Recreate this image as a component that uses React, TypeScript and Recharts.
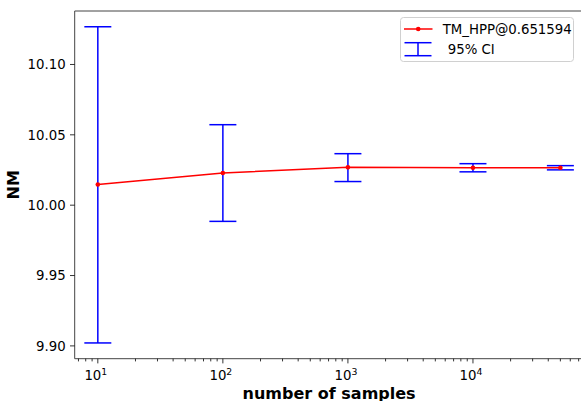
import React from 'react';
import {
  ComposedChart,
  Line,
  XAxis,
  YAxis,
  ErrorBar,
  ReferenceLine,
  Legend,
  Label,
} from 'recharts';

const samples = [10, 100, 1000, 10000, 50000];
const means = [10.0147, 10.0229, 10.0269, 10.0266, 10.0266];
const ciLow = [9.9021, 9.9885, 10.0168, 10.0237, 10.0251];
const ciHigh = [10.1268, 10.0572, 10.0366, 10.0295, 10.0281];

const yTicks = [9.9, 9.95, 10.0, 10.05, 10.1];
const xMajorTicks = [10, 100, 1000, 10000];
const xMinorTicks = [
  7, 8, 9,
  20, 30, 40, 50, 60, 70, 80, 90,
  200, 300, 400, 500, 600, 700, 800, 900,
  2000, 3000, 4000, 5000, 6000, 7000, 8000, 9000,
  20000, 30000, 40000, 50000, 60000, 70000,
];
const xMajorExponents = ['1', '2', '3', '4'];

const seriesName = 'TM_HPP@0.651594';
const ciName = '95% CI';
const xTitle = 'number of samples';
const yTitle = 'NM';

const X_DOMAIN: [number, number] = [6.532, 76550];
const Y_DOMAIN: [number, number] = [9.8909, 10.138];

const data = samples.map((s, i) => ({
  n: s,
  mean: means[i],
  err: [means[i] - ciLow[i], ciHigh[i] - means[i]],
}));

const FONT = 'DejaVu Sans';

const XTick = (props: any) => {
  const { x, y, payload } = props;
  const v = payload.value;
  const idx = xMajorTicks.indexOf(v);
  if (idx < 0) {
    return <line x1={x} x2={x} y1={y} y2={y + 2.7} stroke="#000" strokeWidth={0.8} />;
  }
  return (
    <g>
      <line x1={x} x2={x} y1={y} y2={y + 4.7} stroke="#000" strokeWidth={0.8} />
      <text
        x={x - 2}
        y={y + 21.7}
        textAnchor="middle"
        fontFamily={FONT}
        fontSize={13.3}
        fill="#000"
      >
        <tspan>10</tspan>
        <tspan dy={-5.5} fontSize={9.3}>
          {xMajorExponents[idx]}
        </tspan>
      </text>
    </g>
  );
};

const YTick = (props: any) => {
  const { x, y, payload } = props;
  return (
    <g>
      <line x1={x} x2={x - 4.7} y1={y} y2={y} stroke="#000" strokeWidth={0.8} />
      <text
        x={x - 9}
        y={y}
        dy="0.36em"
        textAnchor="end"
        fontFamily={FONT}
        fontSize={13.3}
        fill="#000"
      >
        {Number(payload.value).toFixed(2)}
      </text>
    </g>
  );
};

const LegendBox = () => (
  <div style={{ width: 174, height: 45 }}>
    <svg width={174} height={45} style={{ display: 'block' }}>
      <rect
        x={0.5}
        y={0.5}
        width={173}
        height={44}
        rx={3}
        ry={3}
        fill="#fff"
        fillOpacity={0.8}
        stroke="#d0d0d0"
        strokeWidth={1}
      />
      <line x1={4} x2={32.5} y1={12} y2={12} stroke="#ff0000" strokeWidth={1.5} />
      <circle cx={18.25} cy={12} r={2.3} fill="#ff0000" />
      <text x={42.7} y={17} fontFamily={FONT} fontSize={13.3} fill="#000">
        {seriesName}
      </text>
      <line x1={4.5} x2={31.5} y1={25.7} y2={25.7} stroke="#0000ff" strokeWidth={1.5} />
      <line x1={4.5} x2={31.5} y1={38.7} y2={38.7} stroke="#0000ff" strokeWidth={1.5} />
      <line x1={18} x2={18} y1={25.7} y2={38.7} stroke="#0000ff" strokeWidth={1.5} />
      <text x={43.5} y={36.5} fontFamily={FONT} fontSize={13.3} fill="#000" xmlSpace="preserve">
        {' ' + ciName}
      </text>
    </svg>
  </div>
);

export default function App() {
  return (
    <div
      style={{
        position: 'absolute',
        left: 0,
        top: 0,
        width: 581,
        height: 401,
        overflow: 'hidden',
        background: '#fff',
      }}
    >
      <ComposedChart
        width={600}
        height={401}
        data={data}
        margin={{ top: 11, right: 16.5, bottom: 0, left: 0 }}
      >
        <XAxis
          dataKey="n"
          type="number"
          scale="log"
          domain={X_DOMAIN}
          allowDataOverflow
          ticks={[...xMinorTicks, ...xMajorTicks].sort((a, b) => a - b)}
          interval={0}
          tick={<XTick />}
          tickLine={false}
          tickSize={0}
          tickMargin={0}
          height={42.3}
          axisLine={{ stroke: '#444', strokeWidth: 1 }}
        >
          <Label
            content={(p: any) => {
              const vb = p.viewBox || {};
              return (
                <text
                  x={vb.x + vb.width / 2}
                  y={vb.y + 40.5}
                  textAnchor="middle"
                  fontFamily={FONT}
                  fontWeight="bold"
                  fontSize={16}
                  fill="#000"
                >
                  {xTitle}
                </text>
              );
            }}
          />
        </XAxis>
        <YAxis
          type="number"
          domain={Y_DOMAIN}
          allowDataOverflow
          ticks={yTicks}
          interval={0}
          width={74.7}
          tick={<YTick />}
          tickLine={false}
          tickSize={0}
          tickMargin={0}
          axisLine={{ stroke: '#444', strokeWidth: 1 }}
        >
          <Label
            content={(p: any) => {
              const vb = p.viewBox || {};
              const cy = vb.y + vb.height / 2;
              return (
                <text
                  x={14}
                  y={cy}
                  transform={`rotate(-90, 14, ${cy})`}
                  textAnchor="middle"
                  dominantBaseline="central"
                  fontFamily={FONT}
                  fontWeight="bold"
                  fontSize={16}
                  fill="#000"
                >
                  {yTitle}
                </text>
              );
            }}
          />
        </YAxis>
        <ReferenceLine y={Y_DOMAIN[1]} stroke="#444" strokeWidth={1} />
        <ReferenceLine x={X_DOMAIN[1]} stroke="#444" strokeWidth={1} />
        <Line
          dataKey="mean"
          stroke="none"
          dot={false}
          activeDot={false}
          legendType="none"
          isAnimationActive={false}
        >
          <ErrorBar
            dataKey="err"
            direction="y"
            width={13.5}
            stroke="#0000ff"
            strokeWidth={1.5}
            isAnimationActive={false}
          />
        </Line>
        <Line
          dataKey="mean"
          stroke="#ff0000"
          strokeWidth={1.5}
          dot={{ r: 2.3, fill: '#ff0000', stroke: 'none' }}
          activeDot={false}
          isAnimationActive={false}
        />
        <Legend
          layout="vertical"
          align="center"
          verticalAlign="middle"
          content={() => <LegendBox />}
          wrapperStyle={{ left: 400, top: 17, width: 174, height: 45, right: 'auto', bottom: 'auto' }}
        />
      </ComposedChart>
    </div>
  );
}
